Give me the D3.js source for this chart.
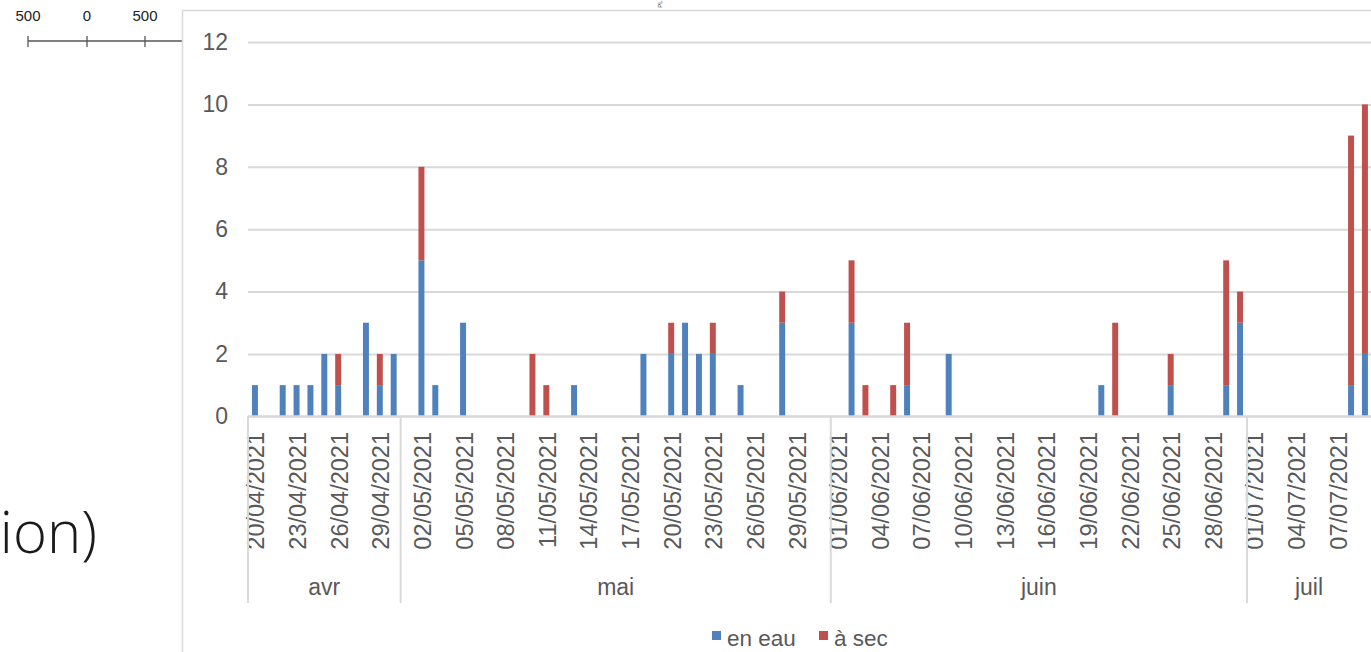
<!DOCTYPE html>
<html><head><meta charset="utf-8">
<script src="https://cdn.jsdelivr.net/npm/d3@7"></script>
<style>body{margin:0;background:#fff;overflow:hidden}svg{display:block}</style>
</head><body>
<svg id="c" width="1371" height="652"></svg>
<script>
// Categories: every day from 20/04/2021 to 09/07/2021
const startDate = new Date(2021, 3, 20);
const endDate = new Date(2021, 6, 10);
const months = ["avr", "mai", "juin", "juil"];
const yTicks = [0, 2, 4, 6, 8, 10, 12];
const seriesNames = ["en eau", "à sec"];
// en eau (blue), by month
const eauAvr  = [1,0,1,1,1,2,1,0,3,1,2];
const eauMai  = [0,5,1,0,3,0,0,0,0,0,0,0,1,0,0,0,0,2,0,2,3,2,2,0,1,0,0,3,0,0,0];
const eauJuin = [0,3,0,0,0,1,0,0,2,0,0,0,0,0,0,0,0,0,0,1,0,0,0,0,1,0,0,0,1,3];
const eauJuil = [0,0,0,0,0,0,0,1,2];
// à sec (red), by month
const secAvr  = [0,0,0,0,0,0,1,0,0,1,0];
const secMai  = [0,3,0,0,0,0,0,0,0,2,1,0,0,0,0,0,0,0,0,1,0,0,1,0,0,0,0,1,0,0,0];
const secJuin = [0,2,1,0,1,2,0,0,0,0,0,0,0,0,0,0,0,0,0,0,3,0,0,0,1,0,0,0,4,1];
const secJuil = [0,0,0,0,0,0,0,8,8];

const eau = [...eauAvr, ...eauMai, ...eauJuin, ...eauJuil];
const sec = [...secAvr, ...secMai, ...secJuin, ...secJuil];
const days = d3.timeDay.range(startDate, endDate);
const fmt = d3.timeFormat("%d/%m/%Y");
const data = days.map((d, i) => ({key: fmt(d), date: d, eau: eau[i], sec: sec[i]}));

const colors = {eau: "#4f81bd", sec: "#c0504d"};
const textCol = "#595959", gridCol = "#d9d9d9";
const FONT = "'Liberation Sans', Arial, sans-serif";

const svg = d3.select("#c");

// background fragments (map scale bar + title fragment)
const bg = svg.append("g");
bg.append("line").attr("x1", 28).attr("x2", 300).attr("y1", 41).attr("y2", 41).attr("stroke", "#555").attr("stroke-width", 1.3);
[[28,"500"],[87,"0"],[145,"500"],[203,"1 000"],[262,"1 500"],[321,"2 000"]].forEach(([x, t]) => {
  bg.append("line").attr("x1", x).attr("x2", x).attr("y1", 36).attr("y2", 47).attr("stroke", "#555").attr("stroke-width", 1.3);
  bg.append("text").attr("x", x).attr("y", 21).attr("text-anchor", "middle")
    .attr("font-family", FONT).attr("font-size", 15).attr("fill", "#222").text(t);
});
bg.append("text").attr("x", 97).attr("y", 553).attr("text-anchor", "end")
  .attr("font-family", "'Open Sans', sans-serif").attr("font-weight", 300)
  .attr("font-size", 58).attr("fill", "#1a1a1a").text("ion)");

// chart area
svg.append("rect").attr("x", 182.5).attr("y", 10.5).attr("width", 1300).attr("height", 700)
  .attr("fill", "#fff").attr("stroke", gridCol).attr("stroke-width", 1.5);
svg.append("text").attr("transform", "translate(662,4) rotate(-90)").attr("font-family", FONT)
  .attr("font-size", 6).attr("fill", "#444").attr("text-anchor", "middle").text("PL");

const x0 = 248, step = 13.875;
const x = d3.scaleBand().domain(data.map(d => d.key)).range([x0, x0 + step * data.length]).paddingInner(0.57).paddingOuter(0.285);
const y = d3.scaleLinear().domain([0, 12]).range([416.3, 42]);

// y axis with gridlines
const yAxis = d3.axisLeft(y).tickValues(yTicks).tickSize(-(x.range()[1] - x0)).tickPadding(20);
const ga = svg.append("g").attr("transform", `translate(${x0},0)`).call(yAxis);
ga.select(".domain").remove();
ga.selectAll(".tick line").attr("stroke", gridCol).attr("stroke-width", 2);
ga.selectAll(".tick text").attr("font-family", FONT).attr("font-size", 23).attr("fill", textCol);

// stacked bars
const stack = d3.stack().keys(["eau", "sec"]);
const series = stack(data);
svg.append("g").selectAll("g").data(series).join("g")
  .attr("fill", s => colors[s.key])
  .selectAll("rect").data(s => s.filter(d => d[1] > d[0])).join("rect")
  .attr("x", d => x(d.data.key)).attr("width", x.bandwidth())
  .attr("y", d => y(d[1])).attr("height", d => y(d[0]) - y(d[1]));

// category axis line
const xr = x.range();
svg.append("line").attr("x1", x0).attr("x2", xr[1]).attr("y1", 416.3).attr("y2", 416.3)
  .attr("stroke", gridCol).attr("stroke-width", 2);

// date labels every 3 days
const gx = svg.append("g");
data.forEach((d, i) => {
  if (i % 3 !== 0) return;
  const cx = x(d.key) + x.bandwidth() / 2 + 1;
  gx.append("text").attr("transform", `translate(${cx},432) rotate(-90)`)
    .attr("text-anchor", "end").attr("dy", "0.36em")
    .attr("font-family", FONT).attr("font-size", 23.5).attr("fill", textCol).text(d.key);
});

// month groups
const monthIdx = months.map((m, k) => {
  const idx = data.map((d, i) => [d, i]).filter(([d]) => d.date.getMonth() === 3 + k).map(([, i]) => i);
  return {m, first: idx[0], last: idx[idx.length - 1]};
});
const bandStart = i => x0 + step * i;
monthIdx.forEach(g => {
  gx.append("line").attr("x1", bandStart(g.first)).attr("x2", bandStart(g.first))
    .attr("y1", 416.3).attr("y2", 603).attr("stroke", gridCol).attr("stroke-width", 2);
  const mid = (bandStart(g.first) + Math.min(bandStart(g.last + 1), 1371)) / 2;
  gx.append("text").attr("x", mid).attr("y", 595).attr("text-anchor", "middle")
    .attr("font-family", FONT).attr("font-size", 23).attr("fill", textCol).text(g.m);
});

// legend
const leg = svg.append("g");
[[712, "eau"], [819, "sec"]].forEach(([lx, k], i) => {
  leg.append("rect").attr("x", lx).attr("y", 631).attr("width", 9).attr("height", 9).attr("fill", colors[k]);
  leg.append("text").attr("x", lx + 15).attr("y", 646).attr("font-family", FONT)
    .attr("font-size", 22.5).attr("fill", textCol).text(seriesNames[i]);
});
</script>
</body></html>
